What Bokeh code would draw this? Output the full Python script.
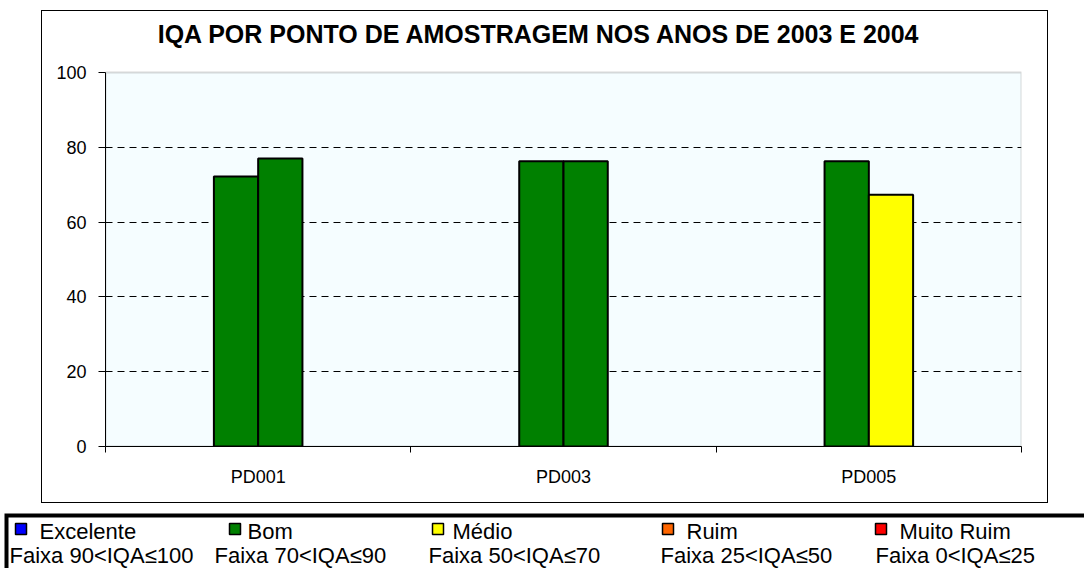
from bokeh.plotting import figure
from bokeh.models import (ColumnDataSource, Range1d, LinearAxis, FixedTicker, Grid,
                          BoxAnnotation, Label)
from bokeh.core.properties import value
from bokeh.transform import dodge
from bokeh.embed import file_html
from bokeh.resources import INLINE

# ---------------- data ----------------
categories = ["PD001", "PD003", "PD005"]
iqa_2003 = [72.2, 76.3, 76.3]
iqa_2004 = [77.0, 76.3, 67.3]

class_names = ["Excelente", "Bom", "Médio", "Ruim", "Muito Ruim"]
class_ranges = ["Faixa 90<IQA≤100", "Faixa 70<IQA≤90", "Faixa 50<IQA≤70",
                "Faixa 25<IQA≤50", "Faixa 0<IQA≤25"]
class_lower = [90, 70, 50, 25, 0]
class_colors = ["#0000FF", "#008000", "#FFFF00", "#FF6600", "#FF0000"]
y_ticks = [0, 20, 40, 60, 80, 100]
title_text = "IQA POR PONTO DE AMOSTRAGEM NOS ANOS DE 2003 E 2004"


def band_color(v):
    for lo, c in zip(class_lower, class_colors):
        if v > lo:
            return c
    return class_colors[-1]


FONT = "Liberation Sans"
n = len(categories)
centers = [i + 0.5 for i in range(n)]
y_min, y_max = y_ticks[0], y_ticks[-1]

# ---------------- chart figure ----------------
# canvas (inside the 1px outer border) starts at page (42, 11)
OX, OY = 42, 11
CW, CH = 1005, 491
FL, FR = 63, 979          # plot-area left/right on the canvas
PT, FB = 61, 435          # plot-area top (value 100) and bottom (value 0)
FT = 1                    # frame top (frame extends up to hold the title)
y_end = y_min + (y_max - y_min) * (FB - FT) / (FB - PT)

p = figure(x_range=Range1d(0, n), y_range=Range1d(y_min, y_end),
           frame_width=FR - FL, frame_height=FB - FT,
           min_border_left=FL, min_border_right=CW - FR,
           min_border_top=FT, min_border_bottom=CH - FB,
           x_axis_location=None, y_axis_location=None, title=None,
           output_backend="svg", toolbar_location=None,
           background_fill_color="white", border_fill_color="white",
           outline_line_color=None, margin=(10, 0, 0, 41),
           styles={"border": "1px solid black"})

# page-pixel helper ranges for the title position
p.extra_x_ranges = {"px": Range1d(OX + FL, OX + FR)}
p.extra_y_ranges = {"py": Range1d(OY + FB, OY + FT)}

# plot area background with grey border
p.add_layout(BoxAnnotation(left=0, right=n, bottom=y_min, top=y_max, level="image",
                           fill_color="#F5FDFF", fill_alpha=1,
                           line_color="#808080", line_width=2))

p.center = [r for r in p.center if not isinstance(r, Grid)]
p.add_layout(Grid(dimension=1, ticker=FixedTicker(ticks=y_ticks[1:-1]),
                  grid_line_color="black", grid_line_dash="7 5", grid_line_width=1), "center")

src = ColumnDataSource(dict(pos=centers, cat=categories, v03=iqa_2003, v04=iqa_2004,
                            c03=[band_color(v) for v in iqa_2003],
                            c04=[band_color(v) for v in iqa_2004]))
bw = 0.145
p.vbar(x=dodge("pos", -bw / 2), top="v03", bottom=0, width=bw, source=src,
       fill_color="c03", line_color="black", line_width=2)
p.vbar(x=dodge("pos", bw / 2), top="v04", bottom=0, width=bw, source=src,
       fill_color="c04", line_color="black", line_width=2)

yaxis = LinearAxis(ticker=FixedTicker(ticks=y_ticks), bounds=(y_min, y_max),
                   major_tick_in=0, major_tick_out=7,
                   minor_tick_in=0, minor_tick_out=0, axis_line_color="black",
                   major_tick_line_color="black", major_label_text_font=FONT,
                   major_label_text_font_size="18px", major_label_text_color="black",
                   major_label_standoff=12)
p.add_layout(yaxis, "left")

edge_ticks = list(range(n + 1))
edge_axis = LinearAxis(ticker=FixedTicker(ticks=edge_ticks),
                       major_tick_in=0, major_tick_out=6, minor_tick_in=0, minor_tick_out=0,
                       axis_line_color="black", major_tick_line_color="black",
                       major_label_overrides={t: "" for t in edge_ticks},
                       major_label_text_font_size="1px", major_label_standoff=0)
p.add_layout(edge_axis, "below")

cat_axis = LinearAxis(ticker=FixedTicker(ticks=centers),
                      major_label_overrides={c: lab for c, lab in zip(centers, categories)},
                      axis_line_color=None, major_tick_line_color=None,
                      minor_tick_line_color=None, major_label_text_font=FONT,
                      major_label_text_font_size="18px", major_label_text_color="black",
                      major_label_standoff=8)
p.add_layout(cat_axis, "below")

p.add_layout(Label(x=539, y=33, x_range_name="px", y_range_name="py", text=title_text,
                   text_align="center", text_baseline="alphabetic", text_font=FONT,
                   text_font_style="bold", text_font_size="25px", text_color="black"))

# ---------------- legend figure (page pixel coordinates) ----------------
LW, LTOP, LBOT = 1084, 513, 571
lg = figure(x_range=Range1d(0, LW), y_range=Range1d(LBOT, LTOP),
            frame_width=LW, frame_height=LBOT - LTOP,
            min_border=0, min_border_left=0, min_border_right=0,
            min_border_top=0, min_border_bottom=0, title=None,
            x_axis_location=None, y_axis_location=None,
            output_backend="svg", toolbar_location=None,
            outline_line_color=None, border_fill_color="white",
            background_fill_color="white", margin=(7, 0, 0, 0))
lg.grid.visible = False

# thick legend border (left and top edges; the rest runs past the window)
lg.line(x=[6, 6, LW + 10], y=[LBOT + 10, 518, 518], line_color="black", line_width=4,
        line_join="miter")

sq_x = [15, 229, 432, 662, 875]
name_x = [39, 247, 452, 686, 899]
faixa_x = [9, 214, 428, 660, 875]
leg = ColumnDataSource(dict(sx=sq_x, sx2=[s + 11 for s in sq_x], nx=name_x, fx=faixa_x,
                            name=class_names, rng=class_ranges, col=class_colors))
lg.quad(left="sx", right="sx2", top=526, bottom=537, fill_color="col", line_color="black",
        line_width=1.5, source=leg)
lg.text(x="nx", y=534, text="name", source=leg, text_font=value(FONT), text_font_size="22px",
        text_baseline="alphabetic", text_align="left", text_color="black")
lg.text(x="fx", y=558, text="rng", source=leg, text_font=value(FONT), text_font_size="22px",
        text_baseline="alphabetic", text_align="left", text_color="black")

open("out.html", "w").write(file_html([p, lg], INLINE))
